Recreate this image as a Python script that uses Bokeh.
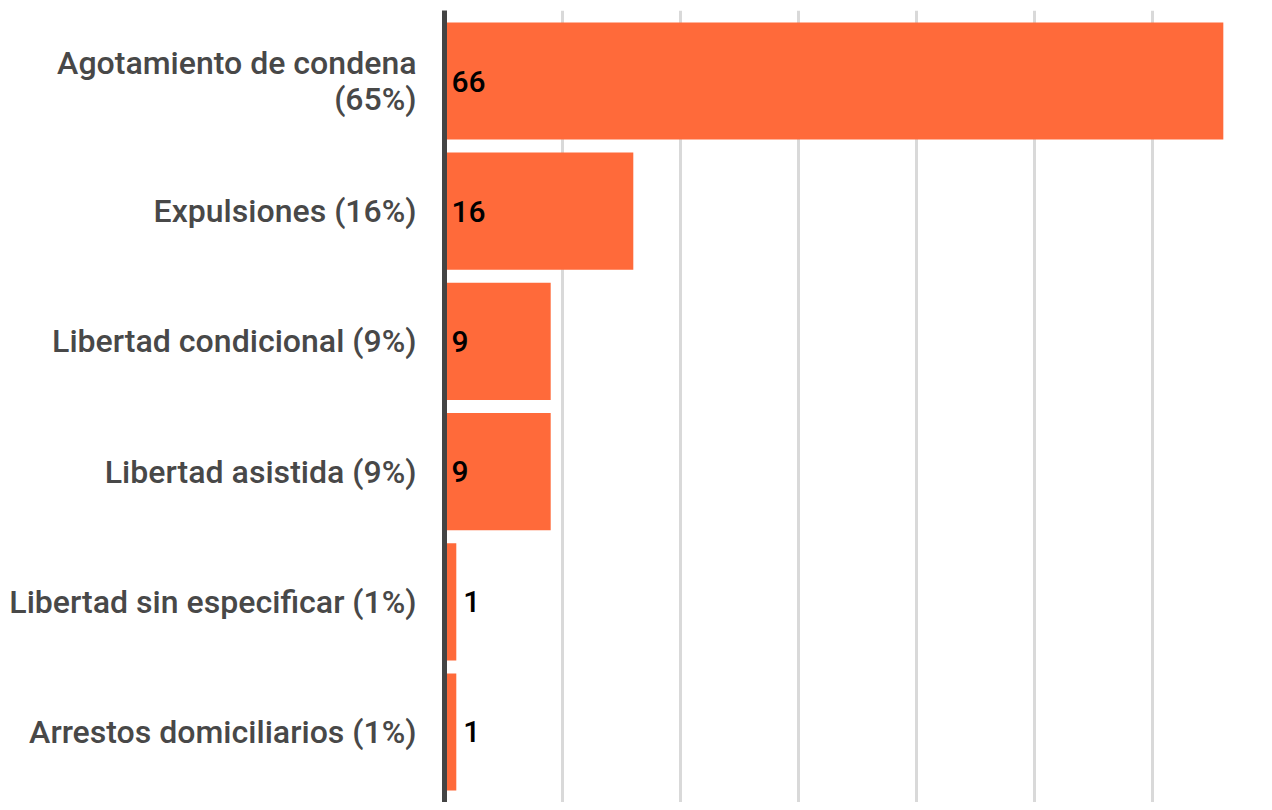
from bokeh.plotting import figure
from bokeh.models import FactorRange, Range1d, ColumnDataSource, LabelSet, SingleIntervalTicker
from bokeh.core.properties import value
from bokeh.embed import file_html
from bokeh.resources import INLINE

categories = [
    "Agotamiento de condena\n(65%)",
    "Expulsiones (16%)",
    "Libertad condicional (9%)",
    "Libertad asistida (9%)",
    "Libertad sin especificar (1%)",
    "Arrestos domiciliarios (1%)",
]
values = [66, 16, 9, 9, 1, 1]
value_labels = ["66", "16", "9", "9", "1", "1"]

label_x = [0 if v > 3 else v for v in values]

src = ColumnDataSource(dict(cat=categories, val=values, lab=value_labels, lx=label_x))

y_range = FactorRange(factors=list(reversed(categories)), range_padding=0.0415,
                      range_padding_units="absolute")

FONT = "'Roboto Medium', Roboto, sans-serif"

p = figure(width=1264, height=802, y_range=y_range, x_range=Range1d(0, 69.49),
           output_backend="svg", toolbar_location=None,
           min_border_left=444, min_border_right=0, min_border_top=10, min_border_bottom=0)

p.hbar(y="cat", right="val", left=0, height=0.9, source=src,
       fill_color="#ff6a3a", line_color=None)

labels = LabelSet(x="lx", y="cat", text="lab", source=src, x_offset=7,
                  text_baseline="middle", text_align="left",
                  text_font=value(FONT), text_font_size="30px", text_color="#000000")
p.add_layout(labels)

p.outline_line_color = None
p.background_fill_color = "white"
p.border_fill_color = "white"

p.xaxis.visible = False
p.xgrid.ticker = SingleIntervalTicker(interval=10)
p.xgrid.grid_line_color = "#d9d9d9"
p.xgrid.grid_line_width = 3
p.ygrid.visible = False

ax = p.yaxis[0]
ax.axis_line_color = "#444444"
ax.axis_line_width = 5
ax.major_tick_line_color = None
ax.minor_tick_line_color = None
ax.major_tick_out = 0
ax.major_tick_in = 0
ax.major_label_standoff = 28
ax.major_label_text_font = FONT
ax.major_label_text_font_size = "32px"
ax.major_label_text_line_height = 0.95
ax.major_label_text_color = "#484848"

open("out.html", "w").write(file_html(p, INLINE))
